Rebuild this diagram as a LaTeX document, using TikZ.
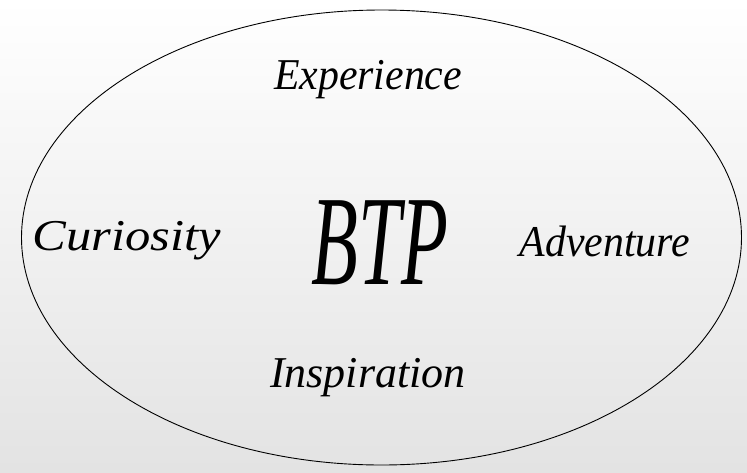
\documentclass[tikz,border=0pt]{standalone}
\usepackage{fontspec}
\usepackage{graphicx}
\usetikzlibrary{shapes.geometric}
\setmainfont{Liberation Serif}
\begin{document}
\begin{tikzpicture}[x=1pt,y=-1pt,
  word/.style={inner sep=0pt, font=\fontsize{44}{50}\selectfont\itshape},
  big/.style={inner sep=0pt, font=\fontsize{128}{140}\selectfont\itshape}]
\shade[top color=white, bottom color=black!11] (0,0) rectangle (747,472);
\useasboundingbox (0,0) rectangle (747,472);
\node[draw, line width=0.9pt, ellipse, minimum width=720, minimum height=455, inner sep=0pt] (oval) at (381.5,237.5) {};
\node[word] (exp) at (368,80) {\scalebox{0.95}[1]{Experience}};
\node[word] (cur) at (127,241) {\scalebox{1.15}[1]{Curiosity}};
\node[big] (btp) at (380,243) {\scalebox{0.6}[1]{BTP}};
\node[word] (adv) at (605,241) {\scalebox{0.95}[1]{Adventure}};
\node[word] (ins) at (368,378) {\scalebox{1.0}[1]{Inspiration}};
\end{tikzpicture}
\end{document}
